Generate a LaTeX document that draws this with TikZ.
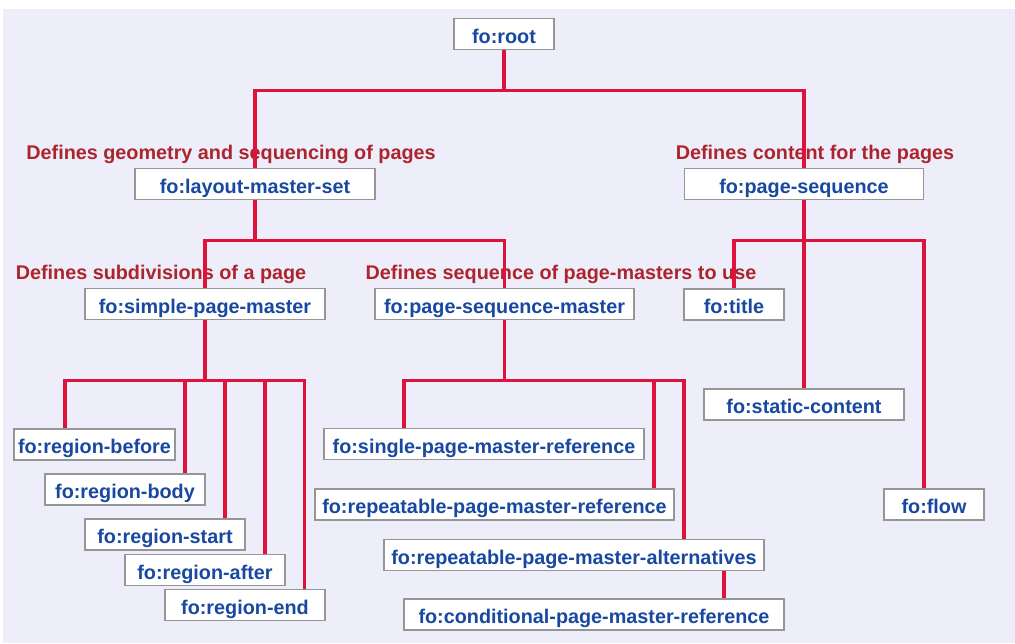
\documentclass[tikz,border=0pt]{standalone}
\usepackage{fontspec}
\setmainfont{Liberation Sans}
\definecolor{bgcol}{RGB}{238,238,251}
\definecolor{linecol}{RGB}{222,18,58}
\definecolor{boxtext}{RGB}{24,72,160}
\definecolor{notecol}{RGB}{172,36,44}
\definecolor{boxline}{RGB}{150,150,150}

\begin{document}
\begin{tikzpicture}[x=1pt,y=-1pt,
  fo/.style={draw=boxline,line width=1.5pt,fill=white,text=boxtext,
    font=\fontsize{19.8}{22}\selectfont\bfseries,minimum height=31pt,inner sep=0pt,
    text height=20pt,text depth=2pt},
  note/.style={text=notecol,font=\fontsize{19.8}{22}\selectfont\bfseries,inner sep=0pt,anchor=base},
  link/.style={draw=linecol,line width=3.2pt}]
\useasboundingbox (0,0) rectangle (1015,643);
\fill[white] (0,0) rectangle (1015,643);
\fill[bgcol] (3,9) rectangle (1015,643);

\node[note] (geo) at (231,159) {Defines geometry and sequencing of pages};
\node[note] (cont) at (815,159) {Defines content for the pages};
\node[note] (subdiv) at (161,279) {Defines subdivisions of a page};
\node[note] (seq) at (561,279) {Defines sequence of page-masters to use};

\node[fo,minimum width=100pt] (root) at (504,34) {fo:root};
\node[fo,minimum width=240pt] (lms) at (255,184) {fo:layout-master-set};
\node[fo,minimum width=239pt] (ps) at (804,184) {fo:page-sequence};
\node[fo,minimum width=240pt] (spm) at (205,304) {fo:simple-page-master};
\node[fo,minimum width=259pt] (psm) at (504.5,304) {fo:page-sequence-master};
\node[fo,minimum width=100pt] (title) at (734,304.5) {fo:title};
\node[fo,minimum width=200pt] (static) at (804,404.5) {fo:static-content};
\node[fo,minimum width=100pt] (flow) at (934,504.5) {fo:flow};
\node[fo,minimum width=161pt] (rbefore) at (94.5,444.5) {fo:region-before};
\node[fo,minimum width=160pt] (rbody) at (125,489.5) {fo:region-body};
\node[fo,minimum width=160pt] (rstart) at (165,534.5) {fo:region-start};
\node[fo,minimum width=160pt] (rafter) at (205,570) {fo:region-after};
\node[fo,minimum width=160pt] (rend) at (245,605) {fo:region-end};
\node[fo,minimum width=320pt] (spmr) at (484,444) {fo:single-page-master-reference};
\node[fo,minimum width=359pt] (rpmr) at (494.5,504.5) {fo:repeatable-page-master-reference};
\node[fo,minimum width=380pt] (rpma) at (574,555) {fo:repeatable-page-master-alternatives};
\node[fo,minimum width=380pt] (cpmr) at (594,614.5) {fo:conditional-page-master-reference};

\draw[link] (root.south) -- ++(0,40) -| (lms.north);
\draw[link] (root.south) -- ++(0,40) -| (ps.north);
\draw[link] (lms.south) -- ++(0,40) -| (spm.north);
\draw[link] (lms.south) -- ++(0,40) -| (psm.north);
\draw[link] (ps.south) -- ++(0,40) -| (title.north);
\draw[link] (ps.south) -- ++(0,40) -| ([xshift=-10pt]flow.north);
\draw[link] (ps.south) -- (static.north);
\draw[link] (spm.south) -- ++(0,60) -| ([xshift=-29.5pt]rbefore.north);
\draw[link] (spm.south) -- ++(0,60) -| ([xshift=60pt]rbody.north);
\draw[link] (spm.south) -- ++(0,60) -| ([xshift=60pt]rstart.north);
\draw[link] (spm.south) -- ++(0,60) -| ([xshift=60pt]rafter.north);
\draw[link] (spm.south) -- ++(0,60) -| ([xshift=59.5pt]rend.north);
\draw[link] (psm.south) -- ++(0,60) -| ([xshift=-80pt]spmr.north);
\draw[link] (psm.south) -- ++(0,60) -| ([xshift=159.5pt]rpmr.north);
\draw[link] (psm.south) -- ++(0,60) -| ([xshift=110pt]rpma.north);
\draw[link] ([xshift=130pt]cpmr.north) -- ([xshift=130pt]cpmr.north |- rpma.south);
\end{tikzpicture}
\end{document}
